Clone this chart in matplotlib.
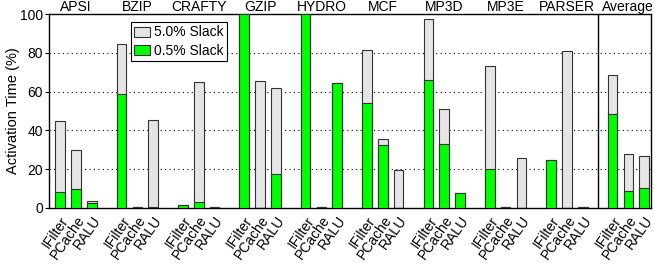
import numpy as np
import matplotlib.pyplot as plt

# ---------- data ----------
groups = ['APSI', 'BZIP', 'CRAFTY', 'GZIP', 'HYDRO', 'MCF', 'MP3D', 'MP3E', 'PARSER', 'Average']
units = ['IFilter', 'PCache', 'RALU']

# activation time (%) per group, order IFilter / PCache / RALU
slack_50 = [
    [44.8, 29.9, 3.8],
    [84.7, 0.6, 45.5],
    [1.4, 64.9, 0.3],
    [100.0, 65.3, 61.9],
    [100.0, 0.3, 64.3],
    [81.6, 35.6, 19.4],
    [97.3, 51.0, 7.6],
    [73.0, 0.3, 25.9],
    [24.6, 80.9, 0.3],
    [68.7, 27.7, 27.0],
]
slack_05 = [
    [8.4, 9.8, 2.6],
    [58.6, 0.3, 0.3],
    [1.3, 3.2, 0.3],
    [100.0, 0.0, 17.4],
    [100.0, 0.3, 64.3],
    [54.1, 32.5, 0.0],
    [66.1, 32.8, 7.6],
    [20.3, 0.3, 0.0],
    [24.6, 0.0, 0.3],
    [48.3, 8.8, 10.1],
]

plt.rcParams['font.family'] = ['Liberation Sans', 'DejaVu Sans']
plt.rcParams['font.size'] = 10

GAP = 3.885      # group pitch in bar slots
WIDTH = 0.61

fig = plt.figure(figsize=(6.55, 2.71), dpi=100)
ax = fig.add_axes([0.0753, 0.2325, 0.9181, 0.7158])

edge = '#333333'
xs, labels = [], []
for g, name in enumerate(groups):
    pos = g * GAP + np.arange(3)
    ax.bar(pos, slack_50[g], WIDTH, color='#e5e5e5', edgecolor=edge, linewidth=0.8,
           zorder=2, label='5.0% Slack' if g == 0 else None)
    ax.bar(pos, slack_05[g], WIDTH, color='#00ff00', edgecolor=edge, linewidth=0.8,
           zorder=3, label='0.5% Slack' if g == 0 else None)
    xs.extend(pos)
    labels.extend(units)
    ax.annotate(name, xy=(pos[1], 100), xytext=(0, 2.5), textcoords='offset points',
                ha='center', va='baseline', fontsize=10, annotation_clip=False)

# separator before Average
sep = (len(groups) - 1) * GAP - (GAP - 2) / 2
ax.axvline(sep, color='black', linewidth=1.0, zorder=4)

ax.set_xlim(-0.687, (len(groups) - 1) * GAP + 2 + 0.415)
ax.set_ylim(0, 100)
ax.set_yticks(range(0, 101, 20))
ax.set_xticks(xs)
ax.set_xticklabels(labels, rotation=55, ha='right', va='top', rotation_mode='anchor')
ax.tick_params(axis='x', length=0, pad=4)
ax.tick_params(axis='y', direction='out', length=3, width=0.8, pad=1.5)
ax.set_ylabel('Activation Time (%)', fontsize=10.5, labelpad=0)

for y in range(20, 100, 20):
    ax.axhline(y, color='black', linestyle=(0, (1, 3)), linewidth=0.8, zorder=1)

for s in ax.spines.values():
    s.set_linewidth(1.0)

leg = ax.legend(loc='upper left', bbox_to_anchor=(0.1354, 0.9588), borderaxespad=0,
                fancybox=False, framealpha=1, edgecolor='black', fontsize=10,
                handlelength=1.15, handleheight=0.72, handletextpad=0.25,
                labelspacing=0.3, borderpad=0.25)
leg.get_frame().set_linewidth(0.8)
leg.set_zorder(5)

fig.savefig('out.png', dpi=100)
